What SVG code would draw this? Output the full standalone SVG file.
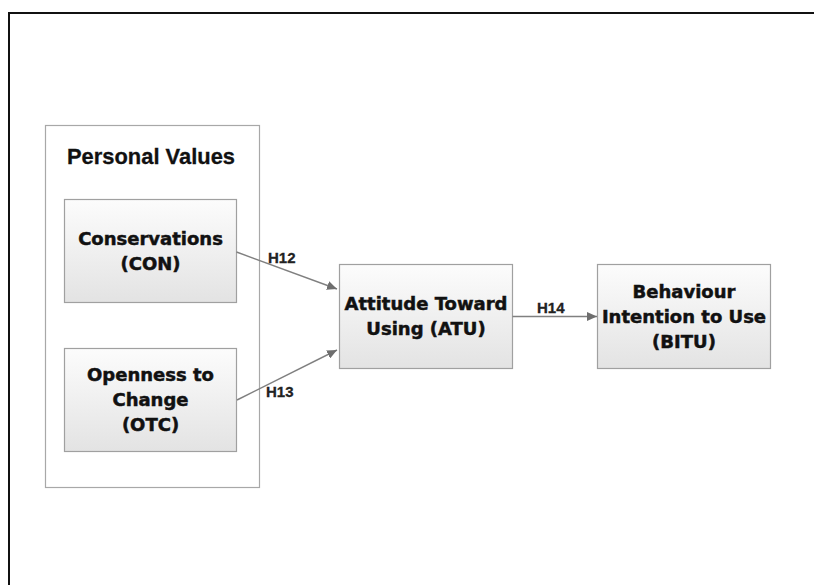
<svg xmlns="http://www.w3.org/2000/svg" width="814" height="585" viewBox="0 0 814 585">
  <defs>
    <linearGradient id="boxFill" x1="0" y1="0" x2="0" y2="1">
      <stop offset="0" stop-color="#fcfcfc"/>
      <stop offset="1" stop-color="#e3e3e3"/>
    </linearGradient>
    <marker id="arrow" viewBox="0 0 10 10" refX="10" refY="5" markerWidth="10" markerHeight="9" markerUnits="userSpaceOnUse" orient="auto" preserveAspectRatio="none">
      <path d="M0,0 L10,5 L0,10 z" fill="#6e6e6e"/>
    </marker>
  </defs>
  <style>
    .frame { fill: none; stroke: #111; stroke-width: 2; }
    .group { fill: #fff; stroke: #a8a8a8; stroke-width: 1.2; }
    .box { fill: url(#boxFill); stroke: #a0a0a0; stroke-width: 1.2; }
    .title { font-family: "Liberation Sans", Arial, sans-serif; font-weight: bold; font-size: 22px; fill: #111; stroke: #111; stroke-width: 0.3; }
    .label { font-family: "DejaVu Sans", Verdana, sans-serif; font-weight: bold; font-size: 18px; fill: #111; stroke: #111; stroke-width: 0.5; text-anchor: middle; }
    .edge { stroke: #808080; stroke-width: 1.4; fill: none; marker-end: url(#arrow); }
    .hyp { font-family: "Liberation Sans", Arial, sans-serif; font-weight: bold; font-size: 15px; fill: #222; stroke: #222; stroke-width: 0.3; }
  </style>

  <rect width="814" height="585" fill="#fff"/>
  <!-- outer frame: only left and top edges fall inside the canvas -->
  <rect class="frame" x="9" y="13" width="820" height="590"/>

  <g id="personal-values">
    <rect class="group" x="45.5" y="125.5" width="214" height="362"/>
    <text class="title" x="67" y="164" textLength="168" lengthAdjust="spacingAndGlyphs">Personal Values</text>
  </g>

  <g id="con">
    <rect class="box" x="64.5" y="199.5" width="172" height="103"/>
    <text class="label" x="150.5" y="245">Conservations</text>
    <text class="label" x="150.5" y="270">(CON)</text>
  </g>

  <g id="otc">
    <rect class="box" x="64.5" y="348.5" width="172" height="103"/>
    <text class="label" x="150.5" y="381">Openness to</text>
    <text class="label" x="150.5" y="406">Change</text>
    <text class="label" x="150.5" y="431">(OTC)</text>
  </g>

  <g id="atu">
    <rect class="box" x="339.5" y="264.5" width="173" height="104"/>
    <text class="label" x="426" y="310">Attitude Toward</text>
    <text class="label" x="426" y="335">Using (ATU)</text>
  </g>

  <g id="bitu">
    <rect class="box" x="597.5" y="264.5" width="173" height="104"/>
    <text class="label" x="684" y="298">Behaviour</text>
    <text class="label" x="684" y="323">Intention to Use</text>
    <text class="label" x="684" y="348">(BITU)</text>
  </g>

  <g id="connectors">
    <line class="edge" x1="236.5" y1="252" x2="337" y2="289"/>
    <line class="edge" x1="237" y1="400" x2="337" y2="350"/>
    <line class="edge" x1="512.5" y1="316.5" x2="597" y2="316.5"/>
    <text class="hyp" x="268" y="263">H12</text>
    <text class="hyp" x="266" y="397">H13</text>
    <text class="hyp" x="537" y="313">H14</text>
  </g>
</svg>
